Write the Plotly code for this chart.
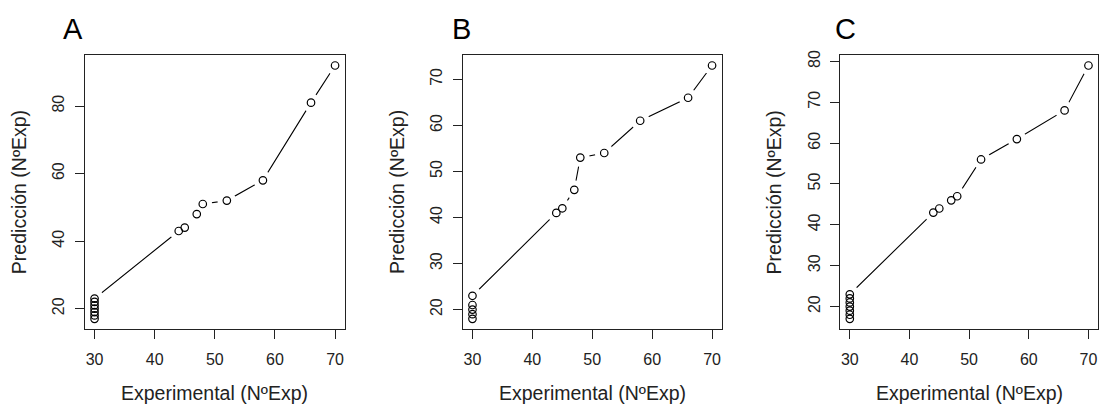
import plotly.graph_objects as go

# ---- data ----
x_a = [30, 30, 30, 30, 30, 30, 30, 44, 45, 47, 48, 52, 58, 66, 70]
y_a = [17, 18, 19, 20, 21, 22, 23, 43, 44, 48, 51, 52, 58, 81, 92]

x_b = [30, 30, 30, 30, 30, 44, 45, 47, 48, 52, 58, 66, 70]
y_b = [18, 19, 20, 21, 23, 41, 42, 46, 53, 54, 61, 66, 73]

x_c = [30, 30, 30, 30, 30, 30, 30, 44, 45, 47, 48, 52, 58, 66, 70]
y_c = [17, 18, 19, 20, 21, 22, 23, 43, 44, 46, 47, 56, 61, 68, 79]

panel_labels = ["A", "B", "C"]
x_ticks = [30, 40, 50, 60, 70]
y_ticks_a = [20, 40, 60, 80]
y_ticks_b = [20, 30, 40, 50, 60, 70]
y_ticks_c = [20, 30, 40, 50, 60, 70, 80]
x_title = "Experimental (NºExp)"
y_title = "Predicción (NºExp)"

W, H = 1099, 405
FONT = "Liberation Sans, Arial, sans-serif"

panels = [
    (x_a, y_a, y_ticks_a, (85, 345)),
    (x_b, y_b, y_ticks_b, (463.3, 722.3)),
    (x_c, y_c, y_ticks_c, (841, 1099)),
]
letter_x = [72.7, 461.7, 845.8]

fig = go.Figure()
top_px, bot_px = 51, 328
ydom = [1 - bot_px / H, 1 - top_px / H]

for i, (xs, ys, yt, (l, r)) in enumerate(panels):
    n = "" if i == 0 else str(i + 1)
    xa, ya = "x" + n, "y" + n
    fig.add_trace(go.Scatter(x=xs, y=ys, mode="lines", line=dict(color="black", width=1.1),
                             xaxis=xa, yaxis=ya, hoverinfo="skip", showlegend=False))
    fig.add_trace(go.Scatter(x=xs, y=ys, mode="markers",
                             marker=dict(size=19, color="white", line=dict(width=0)),
                             xaxis=xa, yaxis=ya, hoverinfo="skip", showlegend=False))
    fig.add_trace(go.Scatter(x=xs, y=ys, mode="markers",
                             marker=dict(size=7.5, color="rgba(0,0,0,0)", symbol="circle",
                                         line=dict(color="black", width=1.2)),
                             xaxis=xa, yaxis=ya, showlegend=False))
    ymin, ymax = min(ys), max(ys)
    pad = 0.04 * (ymax - ymin)
    xmin, xmax = min(xs), max(xs)
    xpad = 0.04 * (xmax - xmin)
    dom_r = min(r / W, 1.0)
    fig.layout["xaxis" + n] = dict(
        domain=[l / W, dom_r], range=[xmin - xpad, xmax + xpad], anchor=ya,
        tickvals=x_ticks, ticks="outside", ticklen=9, tickwidth=1.2, tickcolor="#222",
        showline=True, linecolor="#222", linewidth=1.4, mirror=True,
        showgrid=False, zeroline=False, tickfont=dict(size=16, color="#222", family=FONT),
        ticklabelstandoff=7, fixedrange=True)
    fig.layout["yaxis" + n] = dict(
        domain=ydom, range=[ymin - pad, ymax + pad], anchor=xa,
        tickvals=yt, ticks="outside", ticklen=9, tickwidth=1.2, tickcolor="#222",
        tickangle=-90,
        showline=True, linecolor="#222", linewidth=1.4, mirror=True,
        showgrid=False, zeroline=False, tickfont=dict(size=16, color="#222", family=FONT),
        ticklabelstandoff=4, fixedrange=True)
    cx = (l + r) / 2 if i < 2 else (l + 1099.6) / 2
    fig.add_annotation(text=x_title, xref="paper", yref="paper", x=cx / W, y=1 - 393 / H,
                       showarrow=False, xanchor="center", yanchor="middle",
                       font=dict(size=19.5, color="#222", family=FONT))
    fig.add_annotation(text=y_title, xref="paper", yref="paper", x=(l - 66) / W,
                       y=1 - ((top_px + bot_px) / 2) / H, textangle=-90,
                       showarrow=False, xanchor="center", yanchor="middle",
                       font=dict(size=19.5, color="#222", family=FONT))
    fig.add_annotation(text=panel_labels[i], xref="paper", yref="paper", x=letter_x[i] / W,
                       y=1 - 24 / H, showarrow=False, xanchor="center", yanchor="middle",
                       font=dict(size=29, color="black", family=FONT))

fig.update_layout(width=W, height=H, margin=dict(l=0, r=0, t=0, b=0),
                  plot_bgcolor="white", paper_bgcolor="white", font=dict(family=FONT))
fig.write_html("out.html")
